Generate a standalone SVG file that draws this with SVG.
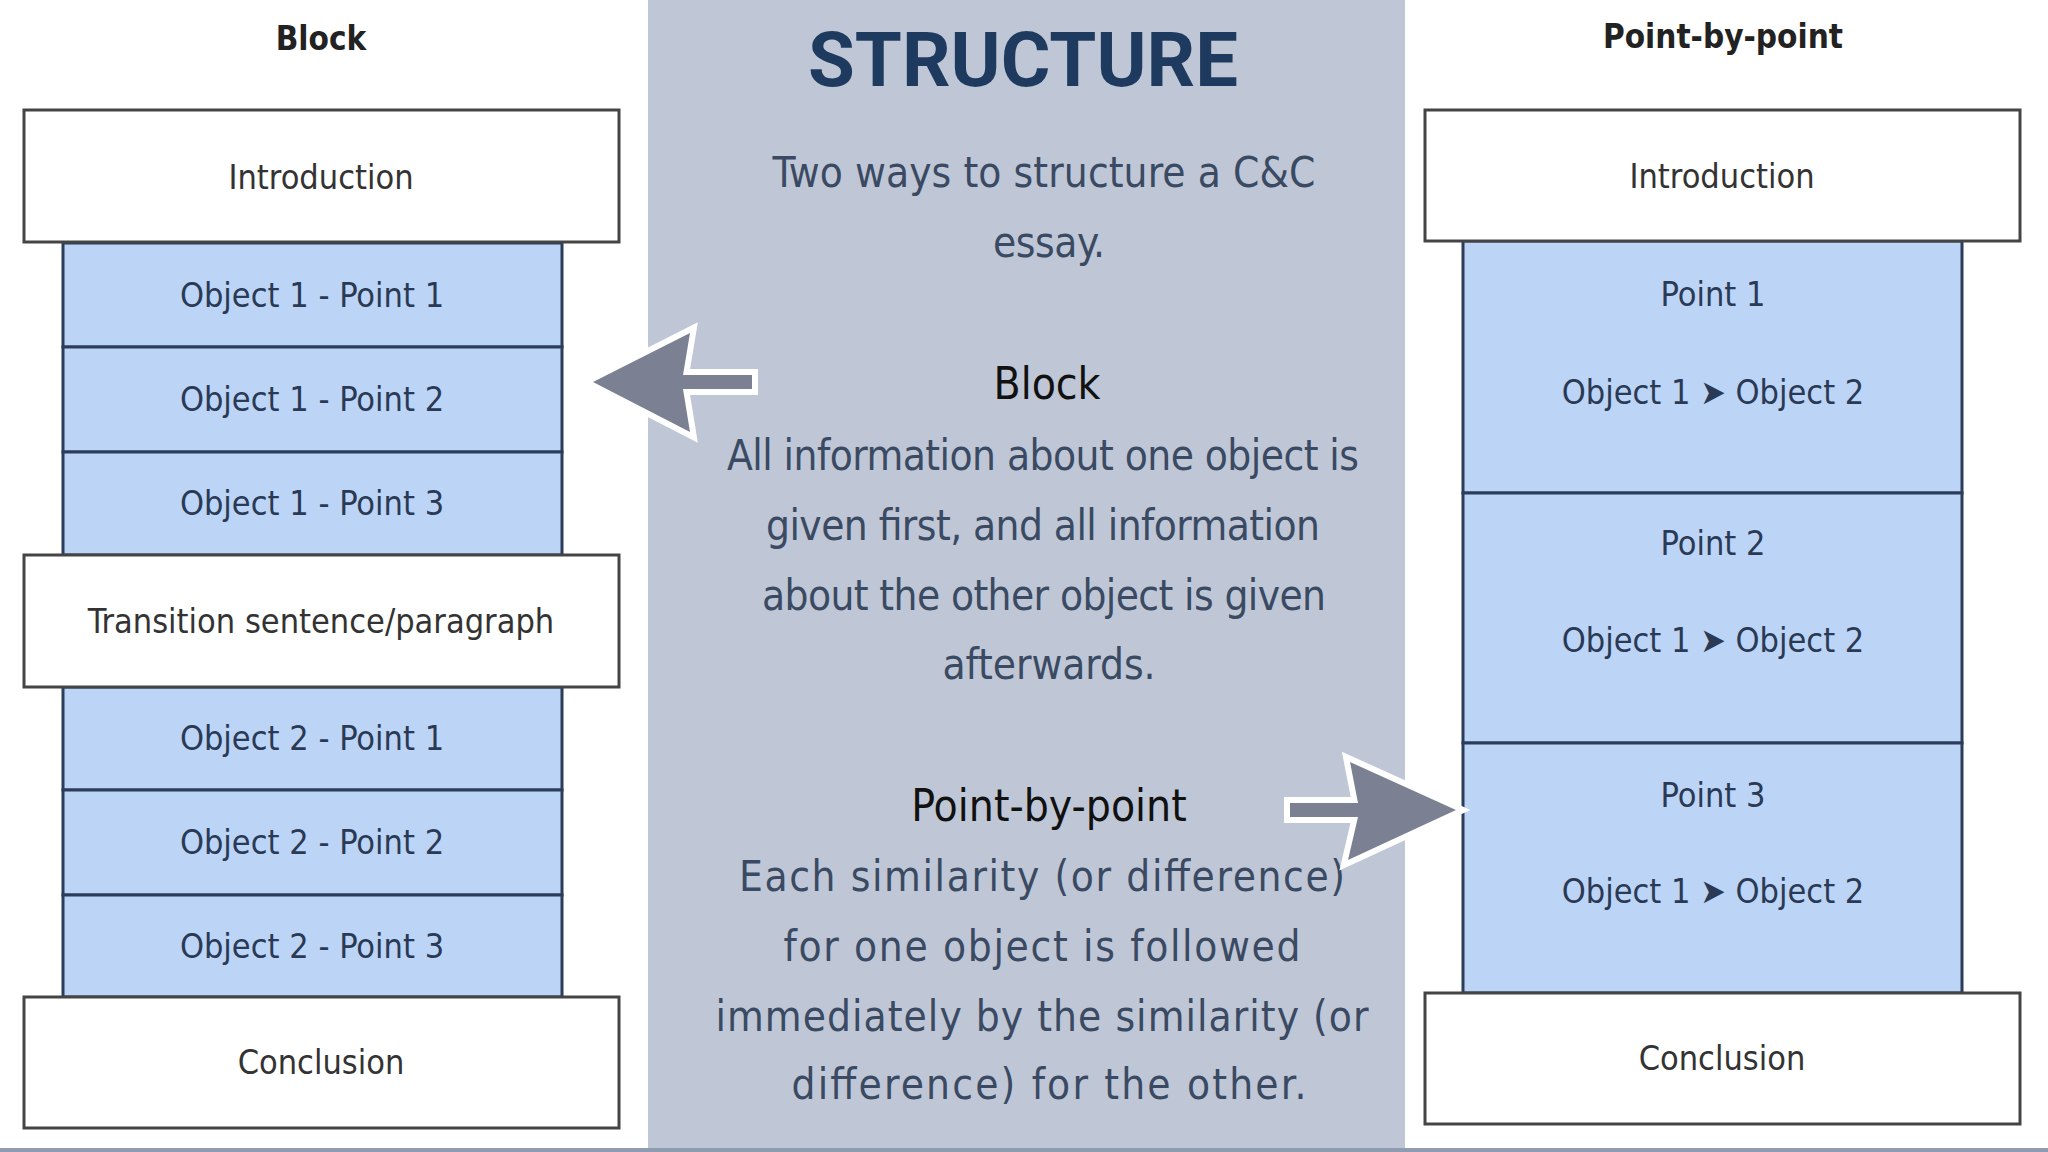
<svg xmlns="http://www.w3.org/2000/svg" width="2048" height="1152" viewBox="0 0 2048 1152">
<style>
.lbl{font-family:"DejaVu Sans Condensed","DejaVu Sans",sans-serif;font-stretch:condensed;font-size:34px;text-anchor:middle}
.w{fill:#333}
.b{fill:#2a3a55}
.wbox{fill:#fff;stroke:#444;stroke-width:3}
.bbox{fill:#bcd4f6;stroke:#2b3d5a;stroke-width:3}
.ttl{font-family:"DejaVu Sans Condensed","DejaVu Sans",sans-serif;font-stretch:condensed;font-weight:bold;font-size:33px;fill:#222;text-anchor:middle}
.body{font-family:"DejaVu Sans Condensed","DejaVu Sans",sans-serif;font-stretch:condensed;font-size:42px;fill:#3b4a63;text-anchor:middle}
.head{font-family:"DejaVu Sans Condensed","DejaVu Sans",sans-serif;font-stretch:condensed;font-size:44px;fill:#111;text-anchor:middle}
.arrow{fill:#7b8193;stroke:#fff;stroke-width:12;stroke-linejoin:miter;stroke-miterlimit:3;paint-order:stroke}
</style>
<rect width="2048" height="1152" fill="#fff"/>
<rect x="648" y="0" width="757" height="1152" fill="#bfc7d6"/>
<rect x="0" y="1148" width="2048" height="4" fill="#8e9bb0"/>

<g id="center-text">
<text x="1023" y="86" font-family="Roboto,'Liberation Sans',sans-serif" font-weight="bold" font-size="76" fill="#1f3a5f" text-anchor="middle">STRUCTURE</text>
<text class="body" x="1044" y="187" textLength="543" lengthAdjust="spacing">Two ways to structure a C&amp;C</text>
<text class="body" x="1049" y="257" textLength="112" lengthAdjust="spacing">essay.</text>
<text class="head" x="1047" y="399">Block</text>
<text class="body" x="1043" y="470" textLength="632" lengthAdjust="spacing">All information about one object is</text>
<text class="body" x="1043" y="540" textLength="554" lengthAdjust="spacing">given first, and all information</text>
<text class="body" x="1044" y="610" textLength="564" lengthAdjust="spacing">about the other object is given</text>
<text class="body" x="1049" y="679" textLength="213" lengthAdjust="spacing">afterwards.</text>
<text class="head" x="1049" y="821">Point-by-point</text>
<text class="body" x="1042" y="891" textLength="606" lengthAdjust="spacing">Each similarity (or difference)</text>
<text class="body" x="1042" y="961" textLength="517" lengthAdjust="spacing">for one object is followed</text>
<text class="body" x="1042" y="1031" textLength="653" lengthAdjust="spacing">immediately by the similarity (or</text>
<text class="body" x="1049" y="1099" textLength="515" lengthAdjust="spacing">difference) for the other.</text>
</g>

<g id="block-column">
<text class="ttl" x="321" y="50">Block</text>
<g id="b-obj1-p1"><rect class="bbox" x="63" y="243" width="499" height="104"/><text class="lbl b" x="312" y="307">Object 1 - Point 1</text></g>
<g id="b-obj1-p2"><rect class="bbox" x="63" y="347" width="499" height="105"/><text class="lbl b" x="312" y="411">Object 1 - Point 2</text></g>
<g id="b-obj1-p3"><rect class="bbox" x="63" y="452" width="499" height="103"/><text class="lbl b" x="312" y="515">Object 1 - Point 3</text></g>
<g id="b-obj2-p1"><rect class="bbox" x="63" y="687" width="499" height="103"/><text class="lbl b" x="312" y="750">Object 2 - Point 1</text></g>
<g id="b-obj2-p2"><rect class="bbox" x="63" y="790" width="499" height="105"/><text class="lbl b" x="312" y="854">Object 2 - Point 2</text></g>
<g id="b-obj2-p3"><rect class="bbox" x="63" y="895" width="499" height="102"/><text class="lbl b" x="312" y="958">Object 2 - Point 3</text></g>
<g id="b-intro"><rect class="wbox" x="24" y="110" width="595" height="132"/><text class="lbl w" x="321" y="189">Introduction</text></g>
<g id="b-transition"><rect class="wbox" x="24" y="555" width="595" height="132"/><text class="lbl w" x="321" y="633">Transition sentence/paragraph</text></g>
<g id="b-conclusion"><rect class="wbox" x="24" y="997" width="595" height="131"/><text class="lbl w" x="321" y="1074">Conclusion</text></g>
</g>

<g id="pbp-column">
<text class="ttl" x="1723" y="48">Point-by-point</text>
<g id="p-point1"><rect class="bbox" x="1463" y="241" width="499" height="252"/><text class="lbl b" x="1713" y="306">Point 1</text><text class="lbl b" x="1713" y="404">Object 1 ➤ Object 2</text></g>
<g id="p-point2"><rect class="bbox" x="1463" y="493" width="499" height="250"/><text class="lbl b" x="1713" y="555">Point 2</text><text class="lbl b" x="1713" y="652">Object 1 ➤ Object 2</text></g>
<g id="p-point3"><rect class="bbox" x="1463" y="743" width="499" height="250"/><text class="lbl b" x="1713" y="807">Point 3</text><text class="lbl b" x="1713" y="903">Object 1 ➤ Object 2</text></g>
<g id="p-intro"><rect class="wbox" x="1425" y="110" width="595" height="131"/><text class="lbl w" x="1722" y="188">Introduction</text></g>
<g id="p-conclusion"><rect class="wbox" x="1425" y="993" width="595" height="131"/><text class="lbl w" x="1722" y="1070">Conclusion</text></g>
</g>

<g id="connectors">
<path class="arrow" d="M593,382 L690,333 L683,375 L752,375 L752,389 L683,389 L690,432 Z"/>
<path class="arrow" d="M1456,810 L1350,762 L1358,803 L1290,803 L1290,817 L1358,817 L1348,860 Z"/>
</g>
</svg>
